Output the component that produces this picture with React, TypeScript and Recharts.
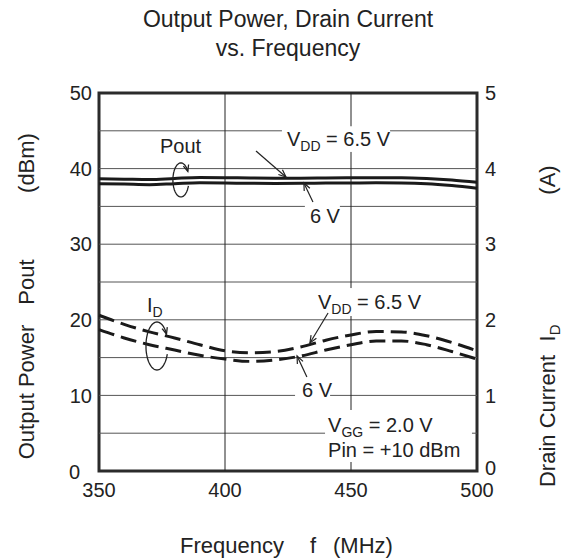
import React from 'react';
import {
  LineChart, Line, XAxis, YAxis, ReferenceLine, ReferenceDot, ReferenceArea,
} from 'recharts';

// frequency in MHz
const freq = [350, 360, 370, 380, 390, 400, 410, 420, 430, 440, 450, 460, 470, 480, 490, 500];

// output power (dBm), left axis
const poutVdd65 = [38.65, 38.6, 38.55, 38.7, 38.82, 38.8, 38.76, 38.74, 38.74, 38.76, 38.78, 38.8, 38.8, 38.7, 38.5, 38.2];
const poutVdd6 = [38.0, 37.95, 37.88, 38.0, 38.12, 38.1, 38.05, 38.04, 38.05, 38.08, 38.1, 38.12, 38.1, 38.0, 37.75, 37.4];

// drain current (A), right axis
const idVdd65 = [2.06, 1.94, 1.84, 1.76, 1.67, 1.59, 1.565, 1.58, 1.64, 1.73, 1.8, 1.845, 1.84, 1.79, 1.7, 1.59];
const idVdd6 = [1.87, 1.76, 1.67, 1.6, 1.53, 1.48, 1.45, 1.47, 1.52, 1.6, 1.67, 1.72, 1.72, 1.67, 1.58, 1.48];

const xTicks = [350, 400, 450, 500];
const leftTicks = [0, 10, 20, 30, 40, 50];
const rightTicks = [0, 1, 2, 3, 4, 5];
const hGridValues = [5, 10, 15, 20, 25, 30, 35, 40, 45];
const vGridValues = [400, 450];

// areas (data units) where the grid is broken for the text labels
const labelBoxes = [
  { f1: 422.6, f2: 465.5, y1: 42.2, y2: 45.6 },
  { f1: 431.7, f2: 445.6, y1: 32.1, y2: 35.3 },
  { f1: 435.7, f2: 475.4, y1: 20.5, y2: 24.2 },
  { f1: 427.8, f2: 441.7, y1: 9.1, y2: 12.0 },
  { f1: 439.7, f2: 498, y1: 1.19, y2: 8.07 },
];

type Part = { t: string; sub?: boolean };
const labels: { f: number; y: number; parts: Part[] }[] = [
  { f: 374.2, y: 42.06, parts: [{ t: 'Pout' }] },
  { f: 424.6, y: 42.99, parts: [{ t: 'V' }, { t: 'DD', sub: true }, { t: ' = 6.5 V' }] },
  { f: 433.7, y: 32.8, parts: [{ t: '6 V' }] },
  { f: 369.0, y: 21.03, parts: [{ t: 'I' }, { t: 'D', sub: true }] },
  { f: 436.9, y: 21.43, parts: [{ t: 'V' }, { t: 'DD', sub: true }, { t: ' = 6.5 V' }] },
  { f: 430.6, y: 9.79, parts: [{ t: '6 V' }] },
  { f: 440.9, y: 5.16, parts: [{ t: 'V' }, { t: 'GG', sub: true }, { t: ' = 2.0 V' }] },
  { f: 440.9, y: 1.85, parts: [{ t: 'Pin = +10 dBm' }] },
];

const arrows = [
  { from: [412.3, 42.33], to: [424.2, 38.89] },
  { from: [434.9, 35.58], to: [431.3, 38.1] },
  { from: [440.9, 20.9], to: [433.7, 16.93] },
  { from: [432.5, 12.43], to: [428.6, 15.21] },
];

const loops = [
  { f: 382.5, y: 38.5, rx: 8, ry: 17 },
  { f: 373, y: 16.53, rx: 11, ry: 24 },
];

const data = freq.map((f, i) => ({
  f,
  p65: poutVdd65[i],
  p6: poutVdd6[i],
  i65: idVdd65[i],
  i6: idVdd6[i],
}));

const FONT = '"Liberation Sans", Arial, Helvetica, sans-serif';
const INK = '#222';

function cut(lo: number, hi: number, gaps: [number, number][]) {
  let segs: [number, number][] = [[lo, hi]];
  gaps.forEach(([a, b]) => {
    const next: [number, number][] = [];
    segs.forEach(([s, e]) => {
      if (b <= s || a >= e) { next.push([s, e]); return; }
      if (a > s) next.push([s, a]);
      if (b < e) next.push([b, e]);
    });
    segs = next;
  });
  return segs;
}

const hSegments = hGridValues.flatMap(v =>
  cut(350, 500, labelBoxes.filter(b => v >= b.y1 && v <= b.y2).map(b => [b.f1, b.f2] as [number, number]))
    .map(([a, b]) => ({ v, a, b })));
const vSegments = vGridValues.flatMap(v =>
  cut(0, 50, labelBoxes.filter(b => v >= b.f1 && v <= b.f2).map(b => [b.y1, b.y2] as [number, number]))
    .map(([a, b]) => ({ v, a, b })));

function arrowHead(x1: number, y1: number, x2: number, y2: number, len = 8) {
  const ang = Math.atan2(y2 - y1, x2 - x1);
  const a1 = ang + Math.PI - 0.4;
  const a2 = ang + Math.PI + 0.4;
  return `M${x2 + len * Math.cos(a1)},${y2 + len * Math.sin(a1)} L${x2},${y2} L${x2 + len * Math.cos(a2)},${y2 + len * Math.sin(a2)}`;
}

const ArrowShape = (p: any) => (
  <g>
    <line x1={p.x1} y1={p.y1} x2={p.x2} y2={p.y2} stroke={INK} strokeWidth={1.2} />
    <path d={arrowHead(p.x1, p.y1, p.x2, p.y2)} fill="none" stroke={INK} strokeWidth={1.2} />
  </g>
);

const makeLoop = (rx: number, ry: number) => (p: any) => {
  const pts: [number, number][] = [];
  for (let a = -20; a >= -330; a -= 5) {
    const r = (a * Math.PI) / 180;
    pts.push([p.cx + rx * Math.cos(r), p.cy - ry * Math.sin(r)]);
  }
  const d = pts.map((q, i) => `${i ? 'L' : 'M'}${q[0].toFixed(1)},${q[1].toFixed(1)}`).join(' ');
  const [ax, ay] = pts[pts.length - 2];
  const [bx, by] = pts[pts.length - 1];
  return (
    <g>
      <path d={d} fill="none" stroke={INK} strokeWidth={1.3} />
      <path d={arrowHead(ax, ay, bx, by, 7)} fill="none" stroke={INK} strokeWidth={1.3} />
    </g>
  );
};

const makeLabel = (parts: Part[]) => (p: any) => (
  <text x={p.cx} y={p.cy} fill={INK} fontFamily={FONT} fontSize={20} style={{ whiteSpace: 'pre' }}>
    {parts.map((part, i) => {
      const prevSub = i > 0 && parts[i - 1].sub;
      const dy = part.sub ? 5 : prevSub ? -5 : 0;
      return (
        <tspan key={i} dy={dy} fontSize={part.sub ? 14 : 20}>{part.t}</tspan>
      );
    })}
  </text>
);

// tick label; the zero labels sit a little apart from the corner as in the original
const makeTick = (side: 'left' | 'right') => (p: any) => {
  const v = p.payload.value;
  let dx = 0;
  let dy = 0;
  if (v === 0 && side === 'left') { dx = -12; dy = 1; }
  if (v === 0 && side === 'right') { dy = -3; }
  return (
    <text x={p.x + dx} y={p.y + dy} dy="0.355em" textAnchor={side === 'left' ? 'end' : 'start'}
      fill={INK} fontSize={20} fontFamily={FONT}>{v}</text>
  );
};

const textStyle: React.CSSProperties = { whiteSpace: 'pre' };

export default function App() {
  return (
    <div style={{ position: 'fixed', left: 0, top: 0, width: 564, height: 560, background: '#fff' }}>
      <LineChart
        width={564}
        height={560}
        data={data}
        margin={{ top: 93, right: 47, bottom: 59, left: 59 }}
      >
        {hSegments.map((s, i) => (
          <ReferenceLine key={`h${i}`} yAxisId="left" segment={[{ x: s.a, y: s.v }, { x: s.b, y: s.v }]}
            stroke="#555" strokeWidth={1} />
        ))}
        {vSegments.map((s, i) => (
          <ReferenceLine key={`v${i}`} yAxisId="left" segment={[{ x: s.v, y: s.a }, { x: s.v, y: s.b }]}
            stroke={INK} strokeWidth={1} />
        ))}
        <XAxis
          dataKey="f"
          type="number"
          domain={[350, 500]}
          ticks={xTicks}
          axisLine={false}
          tickLine={false}
          tickMargin={6}
          height={30}
          tick={{ fill: INK, fontSize: 20, fontFamily: FONT }}
        />
        <YAxis
          yAxisId="left"
          domain={[0, 50]}
          ticks={leftTicks}
          axisLine={false}
          tickLine={false}
          tickMargin={1}
          width={40}
          tick={makeTick('left')}
        />
        <YAxis
          yAxisId="right"
          orientation="right"
          domain={[0, 5]}
          ticks={rightTicks}
          axisLine={false}
          tickLine={false}
          tickMargin={2}
          width={40}
          tick={makeTick('right')}
        />
        <Line yAxisId="left" type="monotone" dataKey="p65" stroke="#1a1a1a" strokeWidth={3} dot={false} isAnimationActive={false} />
        <Line yAxisId="left" type="monotone" dataKey="p6" stroke="#1a1a1a" strokeWidth={3} dot={false} isAnimationActive={false} />
        <Line yAxisId="right" type="monotone" dataKey="i65" stroke="#1a1a1a" strokeWidth={3} strokeDasharray="16 7" dot={false} isAnimationActive={false} />
        <Line yAxisId="right" type="monotone" dataKey="i6" stroke="#1a1a1a" strokeWidth={3} strokeDasharray="16 7" dot={false} isAnimationActive={false} />
        <ReferenceArea yAxisId="left" x1={350} x2={500} y1={0} y2={50} fill="none" fillOpacity={0} stroke="#2b2b2b" strokeWidth={3} />
        {arrows.map((a, i) => (
          <ReferenceLine key={`a${i}`} yAxisId="left"
            segment={[{ x: a.from[0], y: a.from[1] }, { x: a.to[0], y: a.to[1] }]}
            shape={ArrowShape} />
        ))}
        {loops.map((l, i) => (
          <ReferenceDot key={`l${i}`} yAxisId="left" x={l.f} y={l.y} r={1} shape={makeLoop(l.rx, l.ry)} />
        ))}
        {labels.map((l, i) => (
          <ReferenceDot key={`t${i}`} yAxisId="left" x={l.f} y={l.y} r={1} shape={makeLabel(l.parts)} />
        ))}
      </LineChart>
      <svg width={564} height={560} style={{ position: 'absolute', left: 0, top: 0, pointerEvents: 'none' }}>
        <g fill={INK} fontFamily={FONT}>
          <text x={288} y={27} fontSize={23} textAnchor="middle">Output Power, Drain Current</text>
          <text x={288} y={56} fontSize={23} textAnchor="middle">vs. Frequency</text>
          <g fontSize={22} style={textStyle}>
            <text x={180} y={553}>Frequency</text>
            <text x={310} y={553}>f</text>
            <text x={333} y={553}>(MHz)</text>
          </g>
          <g fontSize={22} transform="translate(34,0) rotate(-90)" style={textStyle}>
            <text x={-392} y={0} textAnchor="middle">Output Power</text>
            <text x={-282} y={0} textAnchor="middle">Pout</text>
            <text x={-163} y={0} textAnchor="middle">(dBm)</text>
          </g>
          <g fontSize={22} transform="translate(555,0) rotate(-90)" style={textStyle}>
            <text x={-421} y={0} textAnchor="middle">Drain Current</text>
            <text x={-333} y={0} textAnchor="middle">I<tspan fontSize={15} dy={5}>D</tspan></text>
            <text x={-180} y={0} textAnchor="middle">(A)</text>
          </g>
        </g>
      </svg>
    </div>
  );
}
